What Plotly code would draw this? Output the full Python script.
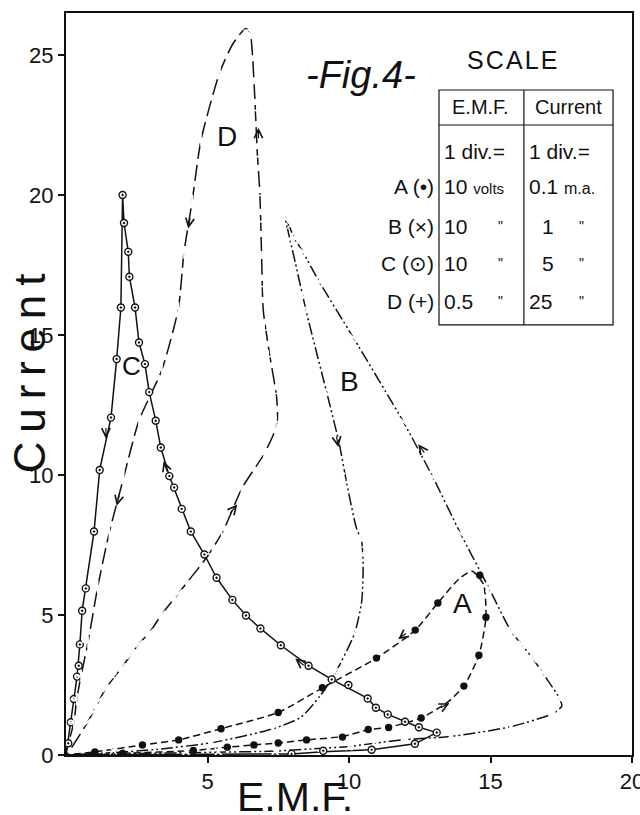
import plotly.graph_objects as go

# ---------------- data ----------------
# Curve A (filled dots, dashed loop)
a_line_x = [0, 2.0, 4.5, 5.7, 6.64, 7.5, 8.5, 9.77, 10.68, 11.4, 12.55, 13.5, 14.06, 14.59, 14.84, 14.75, 14.35, 13.9, 13.14, 12.34, 10.97, 9.06, 7.5, 5.48, 3.98, 2.7, 1.02, 0]
a_line_y = [0, 0.06, 0.16, 0.28, 0.36, 0.43, 0.54, 0.66, 0.9, 0.99, 1.32, 1.9, 2.46, 3.56, 4.92, 6.1, 6.56, 6.3, 5.43, 4.46, 3.46, 2.4, 1.52, 0.94, 0.54, 0.36, 0.11, 0]
a_pts_x = [2.0, 4.5, 5.7, 6.64, 7.5, 8.5, 9.77, 10.68, 11.4, 12.55, 14.06, 14.59, 14.84, 14.62, 13.14, 12.34, 10.97, 9.06, 7.5, 5.48, 3.98, 2.7, 1.02]
a_pts_y = [0.06, 0.16, 0.28, 0.36, 0.43, 0.54, 0.64, 0.91, 0.98, 1.32, 2.46, 3.56, 4.92, 6.42, 5.43, 4.46, 3.46, 2.4, 1.52, 0.94, 0.54, 0.36, 0.11]

# Curve B (crosses, dash-dot-dot)
b_line_x = [0, 1.6, 3.2, 5.15, 7.3, 8.3, 8.97, 9.5, 10.2, 10.45, 10.5, 10.45, 10.25, 9.92, 9.66, 9.3, 8.5, 8.1, 7.75, 8.06, 8.36, 8.95, 10.15, 11.92, 12.96, 13.94, 14.95, 15.72, 16.1, 16.51, 16.9, 17.42, 17.52, 17.2, 15.72, 13.57, 12.0, 10.89, 10.0, 9.03, 7.39, 5.38, 4.24, 1.65, 0]
b_line_y = [0, 0.08, 0.2, 0.44, 0.93, 1.35, 2.1, 2.9, 4.35, 5.5, 6.7, 7.6, 8.15, 9.7, 11.1, 12.6, 15.8, 17.6, 19.2, 18.48, 17.98, 16.9, 14.91, 11.9, 9.93, 7.91, 5.95, 4.43, 3.95, 3.42, 2.85, 2.05, 1.75, 1.48, 1.01, 0.66, 0.55, 0.42, 0.3, 0.24, 0.14, 0.1, 0.08, 0.04, 0]
b_pts_x = [1.67, 4.24, 5.15, 7.3, 8.86, 9.51, 10.25, 10.25, 10.06, 10.31, 10.68, 10.59, 10.37, 10.37, 9.74, 9.66, 9.15, 8.45, 8.33, 7.94, 7.74, 8.06, 8.36, 8.95, 10.15, 11.92, 12.96, 13.94, 14.95, 15.72, 16.1, 16.51, 16.84, 17.48, 17.18, 15.72, 13.57, 11.99, 10.87, 10.0, 9.03, 7.39, 5.38]
b_pts_y = [0.15, 0.12, 0.44, 0.92, 1.45, 2.98, 3.93, 4.43, 4.94, 5.95, 6.61, 7.32, 7.77, 8.84, 9.95, 11.96, 12.98, 15.95, 16.43, 18.93, 19.16, 18.48, 17.98, 16.9, 14.91, 11.9, 9.93, 7.91, 5.95, 4.43, 3.95, 3.42, 2.94, 1.98, 1.48, 1.01, 0.66, 0.55, 0.4, 0.3, 0.24, 0.12, 0.12]

# Curve C (dotted circles, solid)
c_line_x = [0, 7.97, 9.09, 10.8, 12.33, 13.1, 12.47, 11.98, 11.37, 10.95, 10.66, 9.39, 8.57, 7.59, 6.87, 6.36, 5.88, 5.32, 4.89, 4.41, 4.09, 3.65, 3.35, 3.17, 2.94, 2.79, 2.58, 2.44, 2.24, 2.2, 2.05, 2.0, 1.94, 1.79, 1.59, 1.19, 0.99, 0.7, 0.57, 0.49, 0.39, 0.28, 0.17, 0]
c_line_y = [0, 0.04, 0.12, 0.19, 0.4, 0.8, 0.99, 1.19, 1.45, 1.69, 2.02, 2.7, 3.19, 3.92, 4.52, 4.98, 5.54, 6.33, 7.16, 7.98, 8.79, 9.96, 10.98, 11.94, 12.96, 13.96, 14.73, 15.98, 17.08, 17.97, 19.0, 20.0, 15.98, 14.14, 12.05, 10.18, 7.98, 5.95, 5.15, 3.95, 2.8, 2.0, 1.17, 0]
c_pts_x = [0.08, 0.17, 0.28, 0.39, 0.45, 0.49, 0.57, 0.7, 0.99, 1.19, 1.59, 1.79, 1.94, 2.0, 2.05, 2.2, 2.24, 2.44, 2.58, 2.79, 2.94, 3.17, 3.35, 3.65, 3.82, 4.09, 4.41, 4.89, 5.32, 5.88, 6.36, 6.87, 7.59, 8.57, 9.39, 9.98, 10.66, 10.95, 11.37, 11.98, 12.47, 13.1, 12.33, 10.8, 9.09, 7.97]
c_pts_y = [0.42, 1.17, 2.0, 2.8, 3.19, 3.95, 5.15, 5.95, 7.98, 10.18, 12.05, 14.14, 15.98, 20.0, 19.0, 17.97, 17.08, 15.98, 14.73, 13.96, 12.96, 11.94, 10.98, 9.96, 9.55, 8.79, 7.98, 7.16, 6.33, 5.54, 4.98, 4.52, 3.92, 3.19, 2.7, 2.5, 2.02, 1.69, 1.45, 1.19, 0.99, 0.8, 0.4, 0.19, 0.15, 0.04]

# Curve D (plus signs, long dashes)
d_line_x = [0, 0.75, 1.41, 1.99, 2.56, 2.97, 3.38, 3.97, 5.0, 5.55, 6.23, 7.0, 7.35, 7.47, 7.44, 7.19, 6.97, 6.91, 6.85, 6.76, 6.64, 6.5, 6.35, 5.91, 5.44, 4.77, 4.46, 4.17, 3.97, 3.39, 2.58, 2.04, 1.53, 1.12, 0.78, 0.53, 0.38, 0.28, 0]
d_line_y = [0, 1.15, 2.38, 3.15, 3.95, 4.4, 5.02, 5.77, 7.1, 8.0, 9.55, 10.75, 11.5, 12.0, 12.8, 14.33, 15.89, 17.92, 20.06, 21.49, 24.1, 25.8, 25.95, 25.42, 24.4, 21.96, 19.79, 17.95, 15.95, 13.76, 11.95, 9.92, 7.95, 6.0, 4.04, 2.82, 1.99, 1.17, 0]
d_xpts_x = [0.75, 0.97, 1.18, 1.42, 1.66, 1.98, 2.28, 2.58, 2.97, 3.38, 3.98]
d_xpts_y = [1.17, 1.55, 1.96, 2.38, 2.8, 3.15, 3.56, 3.97, 4.38, 5.02, 5.78]
d_pts_x = [4.69, 5.18, 5.0, 5.5, 6.2, 7.0, 7.39, 7.42, 8.02, 7.36, 7.15, 7.0, 6.58, 7.0, 6.98, 6.74, 7.0, 7.02, 6.6, 6.77, 6.75, 6.5, 5.44, 4.77, 4.46, 4.17, 3.97, 3.39, 2.58, 2.04, 1.53, 1.12, 0.78, 0.53, 0.38, 0.28]
d_pts_y = [6.35, 7.18, 8.01, 8.03, 9.55, 10.75, 10.55, 11.9, 12.15, 12.91, 14.23, 15.18, 15.95, 16.73, 17.97, 19.05, 19.98, 20.95, 21.37, 23.02, 23.98, 25.88, 24.4, 21.96, 19.79, 17.95, 15.95, 13.76, 11.95, 9.92, 7.95, 6.0, 4.04, 2.82, 1.99, 1.17]

x_ticks = [5, 10, 15, 20]
y_ticks = [0, 5, 10, 15, 20, 25]

# scale table
scale_rows = ["A (\u2022)", "B (\u00d7)", "C (\u2299)", "D (+)"]
scale_emf = ["10", "10", "0.5"]
scale_cur = ["1", "5", "25"]

INK = "#111111"
FONT = "Liberation Sans"
TS = "\u2009"   # thin space (wide hand lettering)
HS = "\u200a"   # hair space

fig = go.Figure()

def add_line(xs, ys, dash, shape="spline"):
    fig.add_trace(go.Scatter(x=xs, y=ys, mode="lines", line=dict(color=INK, width=1.5, dash=dash,
                                                                     shape=shape, smoothing=0.6),
                             hoverinfo="skip", showlegend=False))

def add_pts(xs, ys, symbol, size, filled=False, lw=1.4):
    fig.add_trace(go.Scatter(x=xs, y=ys, mode="markers",
                             marker=dict(symbol=symbol, size=size, color=INK if filled else "white",
                                         line=dict(color=INK, width=lw)),
                             hoverinfo="skip", showlegend=False))

add_line(a_line_x, a_line_y, "7px,4px")
add_line(b_line_x, b_line_y, "12px,3px,2px,3px,2px,3px")
add_line(c_line_x, c_line_y, "solid", shape="linear")
add_line(d_line_x, d_line_y, "16px,6px")

add_pts(a_pts_x, a_pts_y, "circle", 6, filled=True)
add_pts(b_pts_x, b_pts_y, "x-thin-open", 7, lw=1.6)
add_pts(c_pts_x, c_pts_y, "circle-dot", 7)
add_pts(d_xpts_x, d_xpts_y, "x-thin-open", 7, lw=1.6)
add_pts(d_pts_x, d_pts_y, "cross-thin-open", 9, lw=1.6)

# direction arrows on curves: tip (x, y) and travel direction (dx, dy) in pixels, dy up
arrows = [
    (1.41, 11.3, 0, -12), (3.45, 10.5, -4, 12), (8.1, 3.45, -10, 8),
    (4.32, 18.8, -2, -12), (1.79, 8.9, -3, -12), (6.8, 22.4, 0, 12),
    (6.05, 8.95, 8, 10), (9.62, 11.0, 2, -12), (12.45, 11.1, -7, 10),
    (11.74, 4.13, -9, -7), (13.55, 1.85, 10, 5),
]
annotations = []
for (tx, ty, dx, dy) in arrows:
    annotations.append(dict(x=tx, y=ty, xref="x", yref="y", ax=-dx, ay=dy,
                            showarrow=True, arrowhead=5, arrowsize=1.4, arrowwidth=1.2,
                            arrowcolor=INK, text=""))

def txt(x, y, s, size, xanchor="center", italic=False, xref="x", yref="y", angle=0, yanchor="middle"):
    if italic:
        s = "<i>" + s + "</i>"
    annotations.append(dict(x=x, y=y, xref=xref, yref=yref, text=s, showarrow=False,
                            xanchor=xanchor, yanchor=yanchor, textangle=angle,
                            font=dict(family=FONT, size=size, color=INK)))

# curve labels
txt(14.0, 5.4, "A", 28)
txt(10.0, 13.33, "B", 28)
txt(2.32, 13.9, "C", 26)
txt(5.68, 22.08, "D", 28)

# figure title and scale table
txt(10.41, 24.29, "-Fig.4-", 38, italic=True)
txt(15.76, 24.82, HS.join("SCALE"), 25)
txt(14.66, 23.14, "E.M.F.", 20)
txt(17.77, 23.14, "Current", 20)
txt(13.3, 21.54, "1 div.=", 21, xanchor="left")
txt(16.28, 21.54, "1 div.=", 21, xanchor="left")
txt(13.27, 20.29, "10 <span style='font-size:15px'>volts</span>", 21, xanchor="left")
txt(16.28, 20.29, "0.1 <span style='font-size:16px'>m.a.</span>", 21, xanchor="left")
row_y = [20.29, 18.89, 17.57, 16.21]
for lab, yy in zip(scale_rows, row_y):
    txt(13.07, yy, lab, 21, xanchor="right")
for i, yy in enumerate(row_y[1:]):
    txt(13.27, yy, scale_emf[i], 21, xanchor="left")
    txt(15.34, yy, "\"", 14)
    txt(17.03 if scale_cur[i] != "25" else 16.78, yy, scale_cur[i], 21)
    txt(18.23, yy, "\"", 14)

# axis titles
txt(-0.063, 0.515, TS.join("Current"), 44, xref="paper", yref="paper", angle=-90)
txt(0.405, -0.056, "E.M.F.", 41, xref="paper", yref="paper")

shapes = [
    dict(type="rect", xref="x", yref="y", x0=13.18, x1=19.33, y0=15.36, y1=23.75,
         line=dict(color=INK, width=1.2)),
    dict(type="line", xref="x", yref="y", x0=13.18, x1=19.33, y0=22.5, y1=22.5,
         line=dict(color=INK, width=1.2)),
    dict(type="line", xref="x", yref="y", x0=16.18, x1=16.18, y0=15.36, y1=23.75,
         line=dict(color=INK, width=1.2)),
]

axis_common = dict(ticks="outside", ticklen=6, tickwidth=1.5, tickcolor=INK, showgrid=False,
                   zeroline=False, showline=True, linewidth=2, linecolor=INK, mirror=True,
                   automargin=False, ticklabeloverflow="allow",
                   tickfont=dict(family=FONT, size=22, color=INK))

fig.update_layout(
    width=640, height=815,
    margin=dict(l=66, r=8, t=13, b=60, autoexpand=False),
    paper_bgcolor="white", plot_bgcolor="white",
    annotations=annotations, shapes=shapes,
    xaxis=dict(range=[0, 20], tickvals=x_ticks, **axis_common),
    yaxis=dict(range=[0, 26.5], tickvals=y_ticks, **axis_common),
)

fig.write_html("out.html", config={"displayModeBar": False},
               post_script="document.body.style.margin='0';document.body.style.overflow='hidden';")
